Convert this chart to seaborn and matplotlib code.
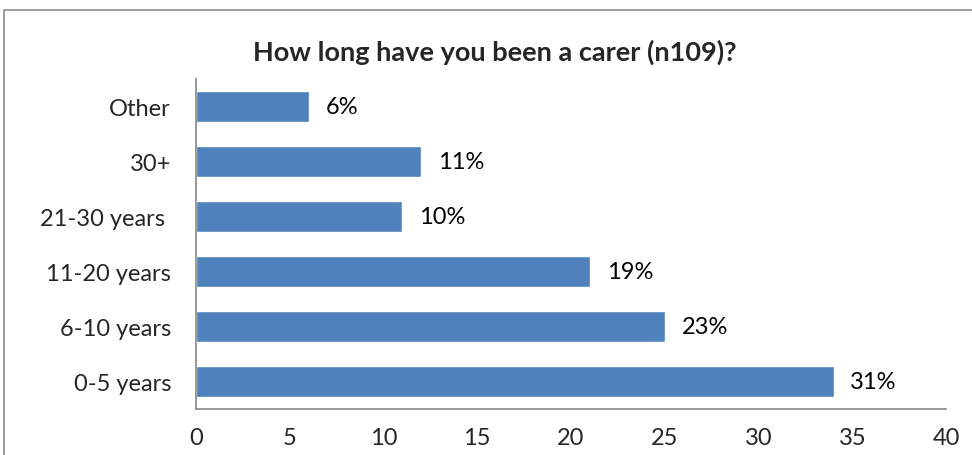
import matplotlib
matplotlib.use("Agg")
import matplotlib.pyplot as plt
from matplotlib.patches import Rectangle
import seaborn as sns
import pandas as pd

categories = ["Other", "30+", "21-30 years ", "11-20 years", "6-10 years", "0-5 years"]
counts = [6, 12, 11, 21, 25, 34]
total_respondents = 109
x_ticks = [0, 5, 10, 15, 20, 25, 30, 35, 40]

df = pd.DataFrame({"category": categories, "count": counts})
df["pct"] = df["count"] / total_respondents * 100

sns.set_theme(style="white")
plt.rcParams["font.family"] = ["Lato", "DejaVu Sans"]

fig = plt.figure(figsize=(9.72, 4.56), dpi=100)
ax = fig.add_axes([196 / 972, 1 - 410 / 456, 750 / 972, 330 / 456])

# chart-area frame
fig.patches.append(Rectangle((4 / 972, -0.2), 1.2, 1.2 - 11 / 456,
                             transform=fig.transFigure, fill=False,
                             edgecolor="#8c8c8c", linewidth=1.2))

sns.barplot(data=df, y="category", x="count", orient="h", color="#4F81BD",
            saturation=1, width=0.57, ax=ax)

for i, row in df.iterrows():
    ax.text(row["count"] + 0.9, i, f"{row['pct']:.0f}%", va="center",
            ha="left", fontsize=17, color="black")

ax.set_xlim(0, 40)
ax.set_ylim(5.5, -0.5)
ax.set_xticks(x_ticks)
ax.set_xticklabels([str(t) for t in x_ticks], fontsize=17)
ax.tick_params(axis="y", labelsize=17, pad=18, length=0)
ax.tick_params(axis="x", pad=13, length=0)
ax.set_xlabel("")
ax.set_ylabel("")
for s in ["top", "right"]:
    ax.spines[s].set_visible(False)
for s in ["left", "bottom"]:
    ax.spines[s].set_color("#868686")
    ax.spines[s].set_linewidth(1.2)

fig.text(495 / 972, 1 - 52 / 456, "How long have you been a carer (n109)?",
         ha="center", va="center", fontsize=19.5, fontweight="bold")

fig.savefig("out.png", dpi=100)
